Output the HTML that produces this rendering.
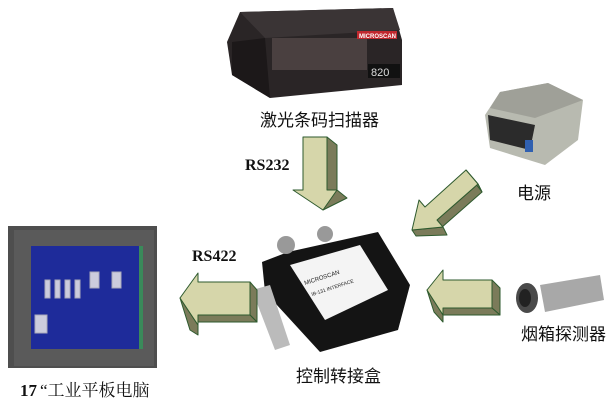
<!DOCTYPE html>
<html><head><meta charset="utf-8"><style>
html,body{margin:0;padding:0;background:#fff;width:612px;height:404px;overflow:hidden}
svg{display:block}
.cn{font-family:"Liberation Sans","Noto Sans CJK SC",sans-serif;font-size:17px;fill:#111}
.rs{font-family:"Liberation Serif",serif;font-weight:bold;font-size:16px;fill:#111}
</style></head><body>
<svg width="612" height="404" viewBox="0 0 612 404" xmlns="http://www.w3.org/2000/svg">
<!-- scanner -->
<polygon points="240,12 393,8 402,40 402,85 270,98 232,75 227,42" fill="#2a2526"/>
<polygon points="240,12 393,8 400,30 265,38" fill="#3a3435"/>
<polygon points="232,42 265,38 270,98 232,75" fill="#1c1819"/>
<rect x="272" y="38" width="95" height="32" fill="#4a4040"/>
<rect x="357" y="31" width="40" height="8" fill="#c0282e"/>
<text x="359" y="38" font-family="Liberation Sans" font-size="6" fill="#fff" font-weight="bold">MICROSCAN</text>
<rect x="368" y="64" width="32" height="14" fill="#111"/>
<text x="371" y="76" font-family="Liberation Sans" font-size="11" fill="#ddd">820</text>
<text class="cn" x="260" y="126">激光条码扫描器</text>
<!-- power supply -->
<polygon points="500,92 548,83 583,100 578,140 545,165 490,148 485,115" fill="#b8bab0"/>
<polygon points="500,92 548,83 583,100 535,118 490,108" fill="#9fa098"/>
<polygon points="488,115 535,125 530,150 490,140" fill="#2b2b2b"/>
<rect x="525" y="140" width="8" height="12" fill="#3060b0"/>
<text class="cn" x="517" y="199">电源</text>
<!-- sensor -->
<polygon points="540,285 600,275 604,300 545,312" fill="#a8a8a8"/>
<ellipse cx="527" cy="298" rx="11" ry="15" fill="#4a4a4a"/>
<ellipse cx="525" cy="298" rx="6" ry="9" fill="#222"/>
<text class="cn" x="521" y="340">烟箱探测器</text>
<!-- monitor -->
<rect x="8" y="226" width="149" height="142" fill="#4e4e4e"/>
<rect x="14" y="230" width="140" height="136" fill="#5a5a5a"/>
<rect x="31" y="246" width="108" height="103" fill="#1e2b9a"/>
<rect x="139" y="246" width="4" height="103" fill="#3a8a5a"/>
<g stroke="#aab" stroke-width="1" fill="#ccd">
<rect x="45" y="280" width="5" height="18"/><rect x="55" y="280" width="5" height="18"/><rect x="65" y="280" width="5" height="18"/><rect x="75" y="280" width="5" height="18"/>
<rect x="90" y="272" width="9" height="16"/><rect x="112" y="272" width="9" height="16"/>
<rect x="35" y="315" width="12" height="18"/>
</g>
<text x="20" y="396" font-family="Liberation Serif, serif" font-size="17" font-weight="bold" fill="#111">17</text>
<text x="40" y="396" font-family="Liberation Serif, Noto Serif CJK SC, serif" font-size="17" fill="#111">“工业平板电脑</text>
<!-- control box -->
<polygon points="288,252 378,232 410,285 398,330 320,352 265,292 262,262" fill="#141414"/>
<polygon points="290,265 360,245 388,290 325,320" fill="#f4f4f4"/>
<circle cx="286" cy="245" r="9" fill="#999"/><circle cx="325" cy="234" r="8" fill="#999"/>
<polygon points="252,290 270,285 290,345 275,350" fill="#bbb"/>
<text x="305" y="285" font-family="Liberation Sans" font-size="6" fill="#222" transform="rotate(-18 305 285)">MICROSCAN</text>
<text x="312" y="296" font-family="Liberation Sans" font-size="5" fill="#222" transform="rotate(-18 312 296)">IB-131 INTERFACE</text>
<text class="cn" x="296" y="382">控制转接盒</text>
<!-- arrows -->
<g stroke="#2e5a2e" stroke-width="1" stroke-linejoin="round">
 <!-- down -->
 <polygon points="327,137 337,145 337,190 327,190" fill="#7b7b5a"/>
 <polygon points="323,210 347,198 337,190 313,202" fill="#7b7b5a"/>
 <polygon points="303,137 327,137 327,190 337,190 323,210 293,190 303,190" fill="#d6d6aa"/>
 <!-- diagonal -->
 <polygon points="478,184 482,192 441,228 437,220" fill="#7b7b5a"/>
 <polygon points="412,230 443,227 447,235 416,236" fill="#7b7b5a"/>
 <polygon points="466,170 478,184 482,192 472,179" fill="#7b7b5a"/>
 <polygon points="412,230 419,200 425,207 466,170 478,184 437,220 443,227" fill="#d6d6aa"/>
 <!-- left -->
 <polygon points="250,282 257,290 257,322 250,315" fill="#7b7b5a"/>
 <polygon points="180,298 198,325 198,335 190,330" fill="#7b7b5a"/>
 <polygon points="198,315 250,315 257,322 198,322" fill="#7b7b5a"/>
 <polygon points="180,298 198,273 198,282 250,282 250,315 198,315 198,325" fill="#d6d6aa"/>
 <!-- right -->
 <polygon points="492,280 500,288 500,315 492,308" fill="#7b7b5a"/>
 <polygon points="427,290 443,315 443,322 434,312" fill="#7b7b5a"/>
 <polygon points="443,308 492,308 500,315 443,315" fill="#7b7b5a"/>
 <polygon points="427,290 443,270 443,280 492,280 492,308 443,308 443,315" fill="#d6d6aa"/>
</g>
<text class="rs" x="245" y="170">RS232</text>
<text class="rs" x="192" y="261">RS422</text>
</svg>
</body></html>
